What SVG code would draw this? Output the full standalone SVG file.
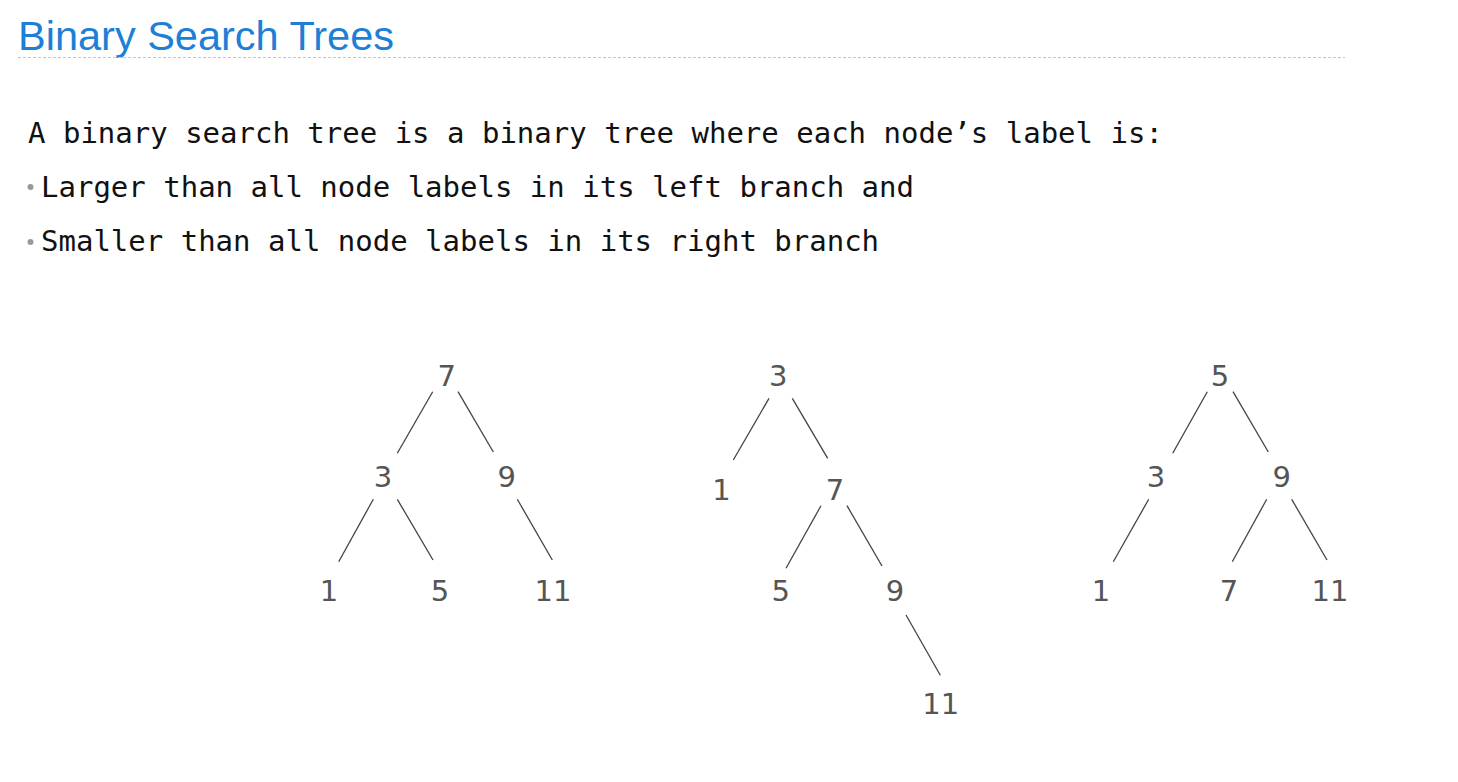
<svg xmlns="http://www.w3.org/2000/svg" width="1458" height="782" viewBox="0 0 1458 782">
<style>
.title{font-family:"Liberation Sans",Arial,sans-serif;font-size:41.5px;fill:#1d7fd6}
.body{font-family:"DejaVu Sans Mono","Liberation Mono",monospace;font-size:29px;fill:#111}
.lbl{font-family:"DejaVu Sans","Noto Sans",sans-serif;font-size:29px;fill:#555;text-anchor:middle}
.edge{stroke:#444;stroke-width:1.3;fill:none}
.bullet{fill:#999}
</style>
<rect width="1458" height="782" fill="#fff"/>
<text class="title" x="18" y="50">Binary Search Trees</text>
<line x1="18" y1="57.5" x2="1345" y2="57.5" stroke="#c8c8c8" stroke-width="1" stroke-dasharray="3,2"/>
<text class="body" x="28" y="143">A binary search tree is a binary tree where each node’s label is:</text>
<circle class="bullet" cx="30.5" cy="187" r="3"/>
<text class="body" x="41" y="197">Larger than all node labels in its left branch and</text>
<circle class="bullet" cx="30.5" cy="242" r="3"/>
<text class="body" x="41" y="251">Smaller than all node labels in its right branch</text>
<g id="connectors">
<line class="edge" x1="432.7" y1="391.7" x2="397.3" y2="453.3"/>
<line class="edge" x1="458" y1="391.7" x2="493.3" y2="452"/>
<line class="edge" x1="373.3" y1="499.3" x2="338.7" y2="561.7"/>
<line class="edge" x1="397.3" y1="499.3" x2="433" y2="560"/>
<line class="edge" x1="517.3" y1="499.3" x2="552.3" y2="560"/>
<line class="edge" x1="769" y1="398.3" x2="733.3" y2="460"/>
<line class="edge" x1="792.3" y1="398.3" x2="827.7" y2="458.3"/>
<line class="edge" x1="821" y1="505.7" x2="786" y2="568.3"/>
<line class="edge" x1="847" y1="505.7" x2="882" y2="566"/>
<line class="edge" x1="906" y1="615" x2="940.3" y2="675.3"/>
<line class="edge" x1="1207.3" y1="391.7" x2="1172.7" y2="453.3"/>
<line class="edge" x1="1233" y1="391.7" x2="1268.3" y2="452"/>
<line class="edge" x1="1148.7" y1="499.3" x2="1113.3" y2="561.7"/>
<line class="edge" x1="1266.7" y1="499.3" x2="1232.3" y2="561.7"/>
<line class="edge" x1="1291.7" y1="499.3" x2="1327" y2="560"/>
</g>
<g id="t1-7"><text class="lbl" x="446.7" y="386">7</text></g>
<g id="t1-3"><text class="lbl" x="383" y="487">3</text></g>
<g id="t1-9"><text class="lbl" x="506.7" y="487">9</text></g>
<g id="t1-1"><text class="lbl" x="329" y="601">1</text></g>
<g id="t1-5"><text class="lbl" x="440" y="601">5</text></g>
<g id="t1-11"><text class="lbl" x="553" y="601">11</text></g>
<g id="t2-3"><text class="lbl" x="778.3" y="386">3</text></g>
<g id="t2-1"><text class="lbl" x="721.5" y="500">1</text></g>
<g id="t2-7"><text class="lbl" x="835" y="500">7</text></g>
<g id="t2-5"><text class="lbl" x="780.7" y="601">5</text></g>
<g id="t2-9"><text class="lbl" x="895" y="601">9</text></g>
<g id="t2-11"><text class="lbl" x="940.7" y="714">11</text></g>
<g id="t3-5"><text class="lbl" x="1220" y="386">5</text></g>
<g id="t3-3"><text class="lbl" x="1156" y="487">3</text></g>
<g id="t3-9"><text class="lbl" x="1281.7" y="487">9</text></g>
<g id="t3-1"><text class="lbl" x="1101" y="601">1</text></g>
<g id="t3-7"><text class="lbl" x="1229" y="601">7</text></g>
<g id="t3-11"><text class="lbl" x="1330" y="601">11</text></g>
</svg>
